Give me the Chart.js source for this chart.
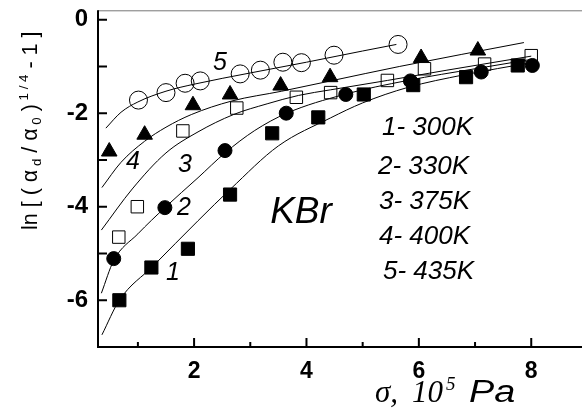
<!DOCTYPE html>
<html>
<head>
<meta charset="utf-8">
<script src="https://cdn.jsdelivr.net/npm/chart.js@4"></script>
<style>
  html, body { margin: 0; padding: 0; background: #fff; overflow: hidden; }
  #wrap { width: 582px; height: 412px; }
</style>
</head>
<body>
<div id="wrap"><canvas id="c" width="582" height="412"></canvas></div>
<script>
// measured points, sigma (10^5 Pa) vs ln[(ad/a0)^1/4 - 1]
// 1 - 300K, filled squares
var s1x = [0.67, 1.24, 1.89, 2.64, 3.39, 4.21, 5.02, 5.90, 6.84, 7.76];
var s1y = [-6.00, -5.30, -4.90, -3.74, -2.43, -2.09, -1.60, -1.40, -1.23, -0.98];
// 2 - 330K, filled circles
var s2x = [0.57, 1.48, 2.55, 3.64, 4.70, 5.85, 7.11, 8.02];
var s2y = [-5.11, -4.02, -2.80, -2.00, -1.60, -1.31, -1.12, -0.98];
// 3 - 375K, open squares
var s3x = [0.66, 0.99, 1.80, 2.76, 3.82, 4.43, 5.44, 6.10, 7.17, 8.00];
var s3y = [-4.65, -4.00, -2.38, -1.89, -1.66, -1.56, -1.30, -1.05, -0.95, -0.77];
// 4 - 400K, triangles
var s4x = [0.49, 1.12, 1.98, 2.64, 3.54, 4.42, 6.04, 7.05];
var s4y = [-2.82, -2.46, -1.83, -1.60, -1.41, -1.23, -0.82, -0.66];
// 5 - 435K, open circles
var s5x = [1.01, 1.50, 1.84, 2.11, 2.82, 3.18, 3.58, 3.91, 4.49, 5.63];
var s5y = [-1.72, -1.56, -1.36, -1.31, -1.16, -1.08, -0.91, -0.92, -0.76, -0.53];

// fitted curves
var c1x = [0.36, 0.67, 1.27, 2.07, 2.65, 3.50, 4.43, 5.00, 5.80, 6.80, 8.00];
var c1y = [-6.74, -6.00, -5.27, -4.30, -3.62, -2.70, -2.10, -1.78, -1.45, -1.18, -0.92];
var c2x = [0.35, 0.57, 1.00, 1.48, 2.07, 2.55, 3.08, 3.65, 4.67, 5.80, 7.00, 8.00];
var c2y = [-5.85, -5.15, -4.58, -4.02, -3.38, -2.85, -2.37, -2.00, -1.60, -1.30, -1.05, -0.85];
var c3x = [0.35, 0.90, 1.50, 2.07, 2.70, 3.30, 3.86, 4.43, 5.44, 6.50, 8.00];
var c3y = [-4.50, -3.62, -2.85, -2.40, -2.03, -1.80, -1.62, -1.50, -1.30, -1.08, -0.78];
var c4x = [0.36, 0.70, 1.12, 1.50, 1.95, 2.67, 3.56, 4.43, 5.66, 7.87];
var c4y = [-3.59, -3.05, -2.60, -2.30, -2.03, -1.74, -1.53, -1.31, -1.00, -0.49];
var c5x = [0.43, 0.70, 1.00, 1.50, 2.00, 3.00, 4.00, 5.00, 5.60];
var c5y = [-2.32, -1.98, -1.76, -1.53, -1.38, -1.14, -0.91, -0.67, -0.53];

var xTicks = [2, 4, 6, 8];
var xMinor = [1, 3, 5, 7];
var yTicks = [0, -2, -4, -6];
var yMinor = [-1, -3, -5];
var curveNames = ['1', '2', '3', '4', '5'];
var legendLines = ['1- 300K', '2- 330K', '3- 375K', '4- 400K', '5- 435K'];

function pts(xs, ys) {
  return xs.map(function (x, i) { return { x: x, y: ys[i] }; });
}

function markers(xs, ys, style, r, fill) {
  return {
    data: pts(xs, ys),
    showLine: false,
    pointStyle: style,
    pointRadius: r,
    pointHoverRadius: r,
    pointBackgroundColor: fill,
    pointBorderColor: '#000',
    pointBorderWidth: 1
  };
}

function curve(xs, ys) {
  return {
    data: pts(xs, ys),
    showLine: true,
    borderColor: '#000',
    borderWidth: 1,
    pointRadius: 0,
    cubicInterpolationMode: 'monotone',
    fill: false
  };
}

function noPad(s) {
  s.paddingTop = 0; s.paddingBottom = 0; s.paddingLeft = 0; s.paddingRight = 0;
}

var SANS = '"Liberation Sans", Arial, sans-serif';
var SERIF = '"Liberation Serif", "Times New Roman", serif';

// axes, inner ticks, titles and annotations
var decor = {
  id: 'decor',
  afterDraw: function (chart) {
    var ctx = chart.ctx, a = chart.chartArea;
    var xs = chart.scales.x, ys = chart.scales.y;
    var W = chart.width;
    ctx.save();
    // frame (runs off the right edge like the original)
    ctx.strokeStyle = '#777';
    ctx.lineWidth = 1;
    ctx.beginPath(); ctx.moveTo(a.left, a.top + 0.5); ctx.lineTo(W, a.top + 0.5); ctx.stroke();
    ctx.strokeStyle = '#000';
    ctx.lineWidth = 2;
    ctx.beginPath();
    ctx.moveTo(a.left, a.top); ctx.lineTo(a.left, a.bottom); ctx.lineTo(W, a.bottom);
    ctx.stroke();
    // ticks pointing inward
    ctx.beginPath();
    xTicks.forEach(function (v) { var p = xs.getPixelForValue(v); ctx.moveTo(p, a.bottom); ctx.lineTo(p, a.bottom - 9); });
    xMinor.forEach(function (v) { var p = xs.getPixelForValue(v); ctx.moveTo(p, a.bottom); ctx.lineTo(p, a.bottom - 5); });
    yTicks.concat(yMinor).forEach(function (v) { var p = ys.getPixelForValue(v); ctx.moveTo(a.left, p); ctx.lineTo(a.left + 9, p); });
    ctx.stroke();

    ctx.fillStyle = '#000';
    ctx.textBaseline = 'middle';
    // curve numbers
    ctx.font = 'italic 25px ' + SANS;
    ctx.textAlign = 'center';
    var numPos = [[173, 273], [184, 208], [185, 165], [133, 162], [220, 63]];
    curveNames.forEach(function (t, i) { ctx.fillText(t, numPos[i][0], numPos[i][1]); });
    // KBr
    ctx.font = 'italic 37px ' + SANS;
    ctx.fillText('KBr', 301, 213);
    // temperature list
    ctx.font = 'italic 26px ' + SANS;
    ctx.textAlign = 'left';
    var legPos = [[382, 128], [378, 167], [379, 202], [379, 237], [383, 272]];
    legendLines.forEach(function (t, i) { ctx.fillText(t, legPos[i][0], legPos[i][1]); });

    // x title: sigma, 10^5 Pa
    ctx.textBaseline = 'alphabetic';
    var by = 402;
    ctx.font = 'italic 31px ' + SERIF;
    ctx.fillText('\u03c3,', 375, by);
    ctx.fillText('10', 412, by);
    ctx.font = 'italic 19px ' + SERIF;
    ctx.fillText('5', 446, by - 12);
    ctx.save();
    ctx.translate(469, by);
    ctx.scale(1.22, 1);
    ctx.font = 'italic 31px ' + SANS;
    ctx.fillText('Pa', 0, 0);
    ctx.restore();

    // y title, rotated
    ctx.translate(37, 230);
    ctx.rotate(-Math.PI / 2);
    var parts = [
      ['ln [ ( \u03b1', 0, 1], [' d', 4, 0.62], [' / \u03b1', 0, 1], [' 0', 4, 0.62],
      [' )', 0, 1], [' 1 / 4', -9, 0.62], [' - 1 ]', 0, 1]
    ];
    var fs = 21.5, px = 0;
    parts.forEach(function (p) {
      ctx.font = (fs * p[2]).toFixed(1) + 'px ' + SANS;
      ctx.fillText(p[0], px, p[1]);
      px += ctx.measureText(p[0]).width;
    });
    ctx.restore();
  }
};

new Chart(document.getElementById('c'), {
  type: 'scatter',
  data: {
    datasets: [
      curve(c1x, c1y), curve(c2x, c2y), curve(c3x, c3y), curve(c4x, c4y), curve(c5x, c5y),
      markers(s1x, s1y, 'rect', 9.3, '#000'),
      markers(s2x, s2y, 'circle', 7, '#000'),
      markers(s3x, s3y, 'rect', 8.8, '#fff'),
      markers(s4x, s4y, 'triangle', 9, '#000'),
      markers(s5x, s5y, 'circle', 9, 'rgba(255,255,255,0)')
    ]
  },
  options: {
    responsive: false,
    animation: false,
    layout: { padding: { top: 8, left: 0, right: 0, bottom: 0 } },
    plugins: { legend: { display: false }, tooltip: { enabled: false } },
    scales: {
      x: {
        type: 'linear', min: 0.29, max: 8.72,
        afterBuildTicks: function (s) { s.ticks = xTicks.map(function (v) { return { value: v }; }); },
        afterFit: function (s) { s.height = 65; noPad(s); },
        grid: { display: false, drawTicks: false },
        border: { display: false },
        ticks: { color: '#000', padding: 11, maxRotation: 0, font: { family: SANS, size: 23, weight: 'bold' } }
      },
      y: {
        type: 'linear', min: -7, max: 0.2,
        afterBuildTicks: function (s) { s.ticks = yTicks.map(function (v) { return { value: v }; }); },
        afterFit: function (s) { s.width = 98; noPad(s); },
        grid: { display: false, drawTicks: false },
        border: { display: false },
        ticks: { color: '#000', padding: 10, font: { family: SANS, size: 24, weight: 'bold' } }
      }
    }
  },
  plugins: [decor]
});
</script>
</body>
</html>
